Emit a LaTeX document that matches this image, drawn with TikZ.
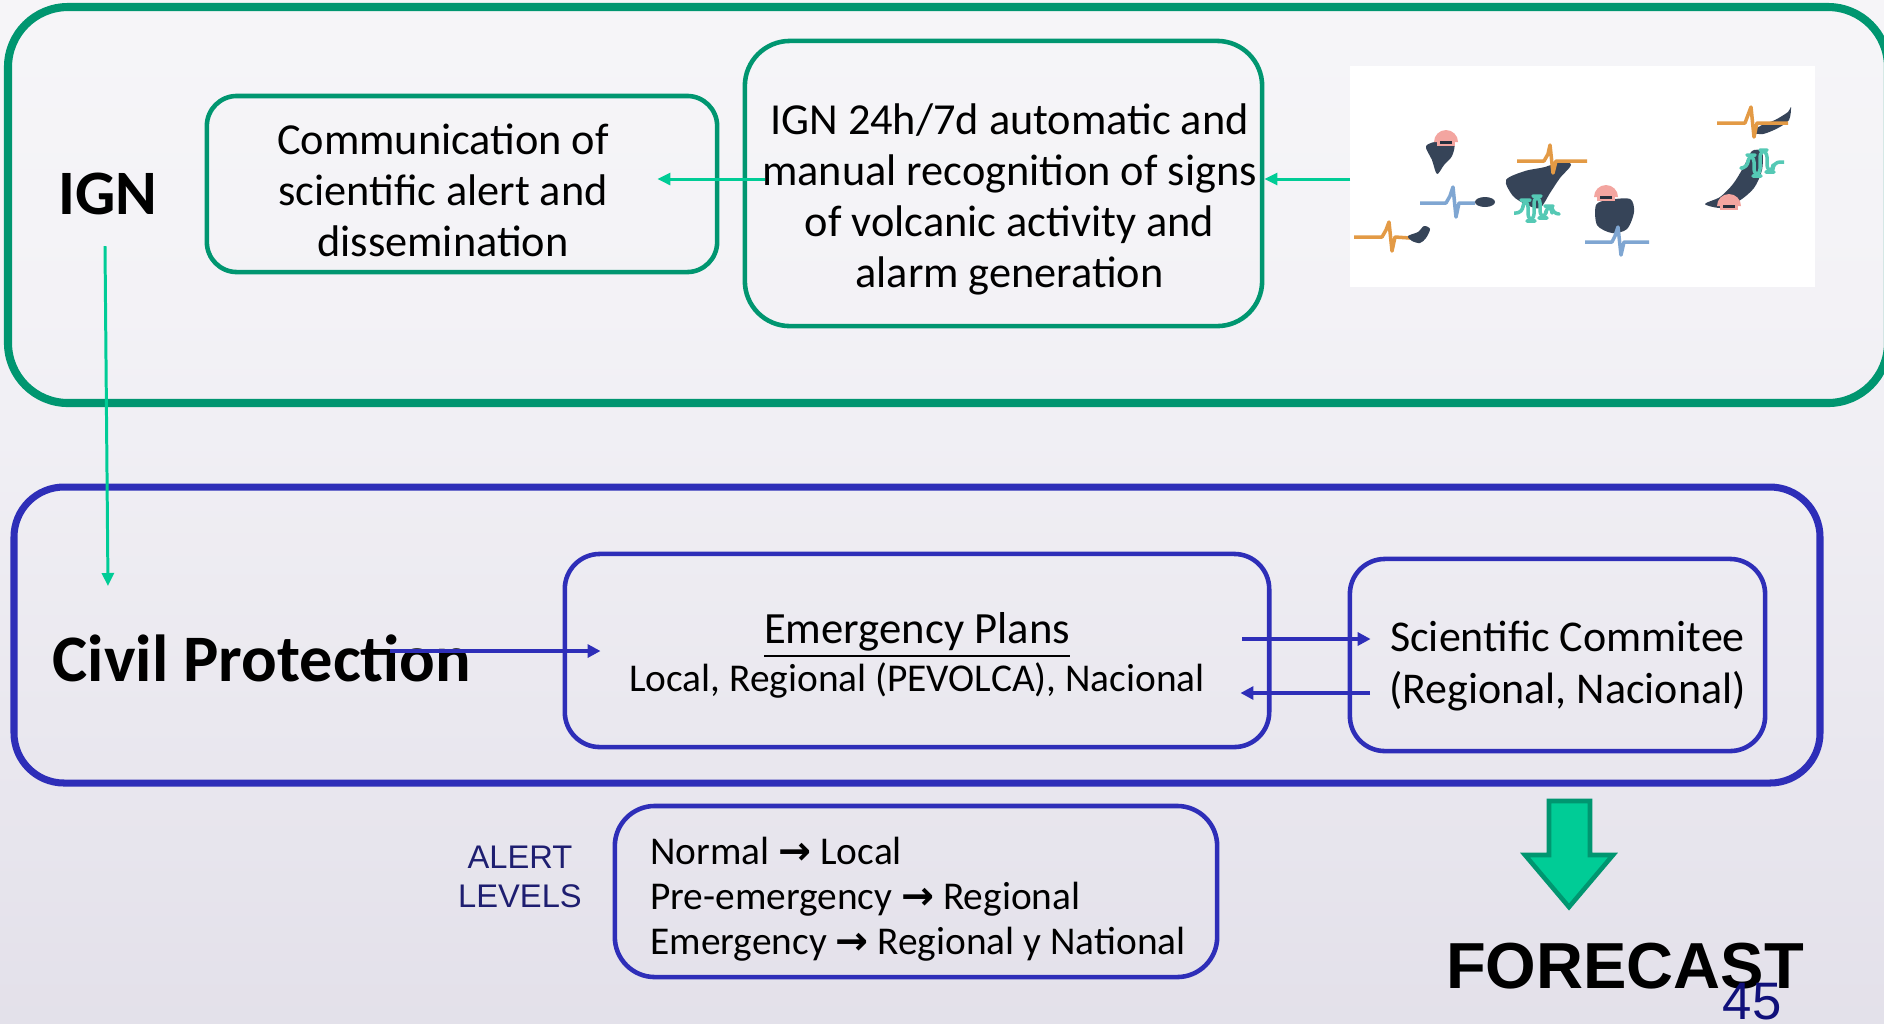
\documentclass[tikz,border=0pt]{standalone}
\usepackage{fontspec}
\setmainfont{Carlito}
\newfontfamily\arialfont{Liberation Sans}
\newfontfamily\arrowfont{DejaVu Sans}
\usetikzlibrary{arrows.meta}

% Colours
\definecolor{igngreen}{RGB}{0,150,112}
\definecolor{arrowgreen}{RGB}{0,204,150}
\definecolor{cpblue}{RGB}{46,46,184}
\definecolor{navy}{RGB}{30,30,112}
\definecolor{pagenum}{RGB}{16,16,122}
\definecolor{island}{RGB}{54,68,88}
\definecolor{traceorange}{RGB}{227,154,69}
\definecolor{traceblue}{RGB}{127,166,210}
\definecolor{traceteal}{RGB}{85,201,181}
\definecolor{capred}{RGB}{243,165,160}

% Background from white to lavender
\pgfdeclareverticalshading{slidebg}{100bp}{rgb(0bp)=(0.804,0.784,0.851); rgb(14bp)=(0.871,0.859,0.902); rgb(60bp)=(0.953,0.949,0.965); rgb(100bp)=(0.984,0.984,0.988)}

\tikzset{
  ignbox/.style={draw=igngreen, line width=1.3pt, rounded corners=0.3cm},
  cpbox/.style={draw=cpblue, line width=1.3pt, rounded corners=0.35cm},
  boxtext/.style={align=center, font=\fontsize{12.6pt}{14.5pt}\selectfont},
  greenarrow/.style={draw=arrowgreen, line width=0.85pt, -{Triangle[length=0.13cm,width=0.12cm]}},
  bluearrow/.style={draw=cpblue, line width=1pt, -{Triangle[length=0.13cm,width=0.13cm]}},
  trace/.style={line width=1pt, line join=round},
}

% Little red volcano cap with a dark bar
\newcommand{\volcap}[2]{%
  \fill[capred] (#1-12,#2) arc[start angle=180, end angle=360, radius=12] -- cycle;
  \fill[capred] (#1-9,#2) rectangle (#1+9,#2+4);
  \fill[island!70!black] (#1-6,#2-1) rectangle (#1+6,#2+2);
}
\newcommand{\toarrow}{{\arrowfont\bfseries →}}

\begin{document}
\begin{tikzpicture}[x=0.01cm, y=-0.01cm]

% Page and background
\useasboundingbox (0,0) rectangle (1884,1023);
\shade[shading=slidebg] (0,0) rectangle (1884,1023);

% IGN frame (runs off the right edge)
\begin{scope}
\clip (0,0) rectangle (1884,1023);
\draw[igngreen, line width=2.3pt, rounded corners=0.6cm] (8,7) rectangle (1888,403);
\end{scope}

% Civil protection frame
\draw[cpblue, line width=2pt, rounded corners=0.5cm] (14,487) rectangle (1820,783);

% Boxes in the IGN frame
\node[ignbox, minimum width=5.10cm, minimum height=1.76cm] (comm) at (462,184) {};
\node[boxtext] (commtext) at (443,190) {Communication of\\scientific alert and\\dissemination};
\node[ignbox, rounded corners=0.45cm, minimum width=5.17cm, minimum height=2.85cm] (detect) at (1003.5,183.5) {};
\node[boxtext] (detecttext) at (1009.5,199.5)
  {IGN 24h/7d automatic and\\manual recognition of signs\\of volcanic activity and\\alarm generation};

% Canary Islands with seismic traces
\node[fill=white, minimum width=4.65cm, minimum height=2.21cm, inner sep=0pt] (islands) at (1582.5,176.5) {};

% La Palma
\fill[island] plot[smooth cycle] coordinates {(1426,146) (1440,141) (1454,144) (1452,156) (1444,165) (1437,174) (1432,160)};
\volcap{1446}{142}
\draw[trace, traceblue] (1420,203) -- (1446,203) -- (1450,196) -- (1453,187) -- (1456,217) -- (1459,203) -- (1475,203);
\fill[island] (1485,202) ellipse (10 and 5);
% El Hierro
\draw[trace, traceorange] (1354,237) -- (1382,237) -- (1386,230) -- (1389,222) -- (1392,251) -- (1395,237) -- (1410,238);
\fill[island] plot[smooth cycle] coordinates {(1408,236) (1418,232) (1424,226) (1430,229) (1426,238) (1420,243) (1412,241)};
% Tenerife
\fill[island] plot[smooth cycle] coordinates {(1506,180) (1525,171) (1545,167) (1562,161) (1571,165) (1560,178) (1550,193) (1540,208) (1527,205) (1513,196)};
\draw[trace, traceorange] (1517,161) -- (1544,161) -- (1548,154) -- (1550,145) -- (1553,173) -- (1556,161) -- (1587,161);
\draw[trace, traceteal, rounded corners=2pt] (1514,213) -- (1523,213) -- (1523,200) -- (1528,200) -- (1528,221) -- (1534,221) -- (1534,196) -- (1540,196) -- (1540,218) -- (1546,218) -- (1546,206) -- (1552,206) -- (1552,214) -- (1559,214);
% Gran Canaria
\fill[island] plot[smooth cycle] coordinates {(1596,205) (1608,200) (1630,199) (1634,212) (1627,229) (1612,233) (1597,225)};
\volcap{1606}{197}
\draw[trace, traceblue] (1585,242) -- (1612,242) -- (1615,236) -- (1618,227) -- (1621,255) -- (1624,242) -- (1649,242);
% Fuerteventura and Lanzarote
\fill[island] plot[smooth cycle] coordinates {(1705,204) (1720,197) (1733,184) (1743,168) (1752,151) (1762,152) (1762,170) (1754,188) (1739,201) (1722,208)};
\draw[trace, traceteal, rounded corners=2pt] (1743,168) -- (1748,168) -- (1748,155) -- (1754,155) -- (1754,176) -- (1760,176) -- (1760,150) -- (1767,150) -- (1767,172) -- (1773,172) -- (1773,162) -- (1784,162);
\volcap{1729}{206}
\fill[island] plot[smooth cycle] coordinates {(1752,132) (1762,125) (1775,120) (1788,112) (1791,107) (1789,120) (1778,128) (1763,134)};
\draw[trace, traceorange] (1717,123) -- (1745,123) -- (1748,115) -- (1751,107) -- (1754,137) -- (1757,123) -- (1788,123);

% Labels of the two frames
\node[anchor=base, font=\bfseries\fontsize{18pt}{21pt}\selectfont] (ign) at (108,214) {IGN};
\node[anchor=base, font=\bfseries\fontsize{18.9pt}{22pt}\selectfont] (cp) at (262,681) {Civil Protection};

% Boxes in the civil protection frame
\node[cpbox, minimum width=7.04cm, minimum height=1.93cm] (plans) at (917,650.5) {};
\node[align=center, font=\fontsize{11.2pt}{13.6pt}\selectfont] (planstext) at (917,655)
  {{\fontsize{12.7pt}{14pt}\selectfont\underline{Emergency Plans}}\\Local, Regional (PEVOLCA), Nacional};
\node[cpbox, minimum width=4.15cm, minimum height=1.92cm] (comitee) at (1557.5,655) {};
\node[align=center, font=\fontsize{12.5pt}{14.7pt}\selectfont] (comiteetext) at (1567.5,666)
  {Scientific Commitee\\(Regional, Nacional)};

% Alert levels
\node[text=navy, align=center, font=\arialfont\fontsize{9.3pt}{10.9pt}\selectfont] (alertlbl) at (520,877) {ALERT\\LEVELS};
\node[cpbox, rounded corners=0.4cm, minimum width=6.02cm, minimum height=1.71cm] (levels) at (916,891.5) {};
\node[align=left, font=\fontsize{11.2pt}{12.8pt}\selectfont] (levelstext) at (918,899.5)
  {Normal \toarrow\ Local\\Pre-emergency \toarrow\ Regional\\Emergency \toarrow\ Regional y National};

% Connectors
\coordinate (islandsout) at (1350,179);
\coordinate (detectout) at (765,179);
\coordinate (ignout) at (105,246);
\coordinate (cpin) at (108,586);
\coordinate (cpout) at (390,651);
\coordinate (plansout) at (1242,639);
\coordinate (comiteeout) at (1370,693);
\draw[greenarrow] (islandsout) -- (detect.east |- islandsout);
\draw[greenarrow] (detectout) -- ([xshift=-0.62cm]comm.east |- detectout);
\draw[greenarrow] (ignout) -- (cpin);
\draw[bluearrow] (cpout) -- ([xshift=0.38cm]plans.west |- cpout);
\draw[bluearrow] (plansout) -- ([xshift=0.23cm]comitee.west |- plansout);
\draw[bluearrow] (comiteeout) -- ([xshift=-0.31cm]plans.east |- comiteeout);

% Forecast arrow and label
\filldraw[fill=arrowgreen, draw=igngreen, line width=1.3pt]
  (1549,801) -- (1590,801) -- (1590,855) -- (1613,855) -- (1569,907) -- (1525,855) -- (1549,855) -- cycle;
\node[anchor=base, font=\arialfont\bfseries\fontsize{18.5pt}{22pt}\selectfont] (forecast) at (1625,988) {FORECAST};
\node[anchor=base, text=pagenum, font=\arialfont\fontsize{15pt}{18pt}\selectfont] (pageno) at (1752,1019) {45};

\end{tikzpicture}
\end{document}
